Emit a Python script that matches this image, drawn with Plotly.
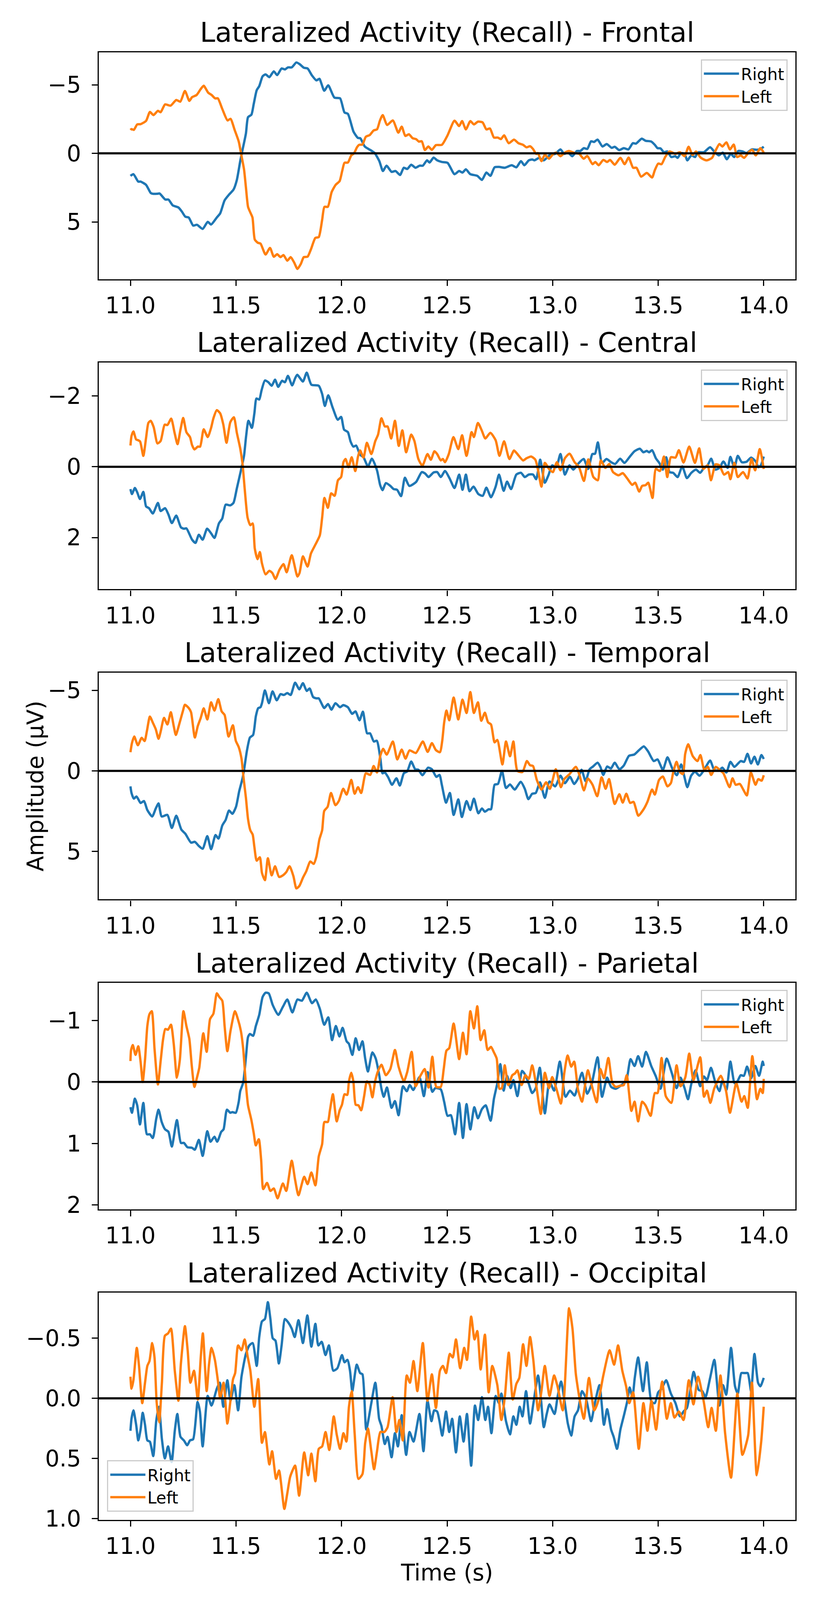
import plotly.graph_objects as go

# ---------------- data: (time in s, amplitude in µV) ----------------
frontal_right = [(11.0,1.64),(11.014,1.52),(11.037,2.06),(11.048,2.06),(11.074,2.30),(11.096,2.89),(11.106,2.95),(11.127,2.95),(11.138,2.93),(11.165,3.37),(11.18,3.37),(11.2,3.79),(11.228,3.96),(11.244,4.26),(11.26,4.62),(11.276,4.68),(11.297,5.27),(11.315,5.21),(11.342,5.51),(11.366,5.0),(11.382,5.19),(11.409,4.68),(11.425,4.38),(11.446,3.43),(11.467,3.01),(11.488,2.65),(11.504,1.94),(11.52,0.57),(11.531,-0.26),(11.547,-1.45),(11.557,-2.64),(11.573,-2.82),(11.584,-3.6),(11.598,-4.6),(11.61,-4.9),(11.626,-5.62),(11.64,-5.76),(11.658,-5.56),(11.679,-5.98),(11.695,-5.71),(11.716,-6.19),(11.732,-6.12),(11.746,-6.27),(11.764,-6.27),(11.786,-6.63),(11.801,-6.51),(11.822,-6.24),(11.839,-6.19),(11.86,-5.68),(11.881,-5.32),(11.895,-5.44),(11.918,-4.57),(11.937,-4.96),(11.966,-4.07),(11.993,-4.01),(12.014,-2.98),(12.03,-2.88),(12.057,-1.57),(12.078,-1.12),(12.089,-1.10),(12.11,-0.5),(12.141,-0.20),(12.157,-0.02),(12.179,0.57),(12.196,1.29),(12.213,0.90),(12.237,1.35),(12.256,1.29),(12.277,1.58),(12.295,1.05),(12.311,1.14),(12.33,0.83),(12.35,1.05),(12.37,0.90),(12.385,0.90),(12.405,0.51),(12.417,0.67),(12.436,0.31),(12.453,0.51),(12.475,0.63),(12.502,0.69),(12.535,1.52),(12.557,1.29),(12.573,1.40),(12.589,1.17),(12.61,1.52),(12.643,1.64),(12.665,1.94),(12.686,1.40),(12.705,1.64),(12.725,1.02),(12.746,0.99),(12.773,1.05),(12.806,0.87),(12.828,1.02),(12.85,0.57),(12.866,0.87),(12.887,0.51),(12.903,0.45),(12.914,0.51),(12.936,0.33),(12.958,0.51),(12.985,0.15),(13.012,0.04),(13.037,-0.29),(13.055,0.04),(13.072,-0.08),(13.093,0.21),(13.115,-0.17),(13.131,-0.17),(13.148,-0.38),(13.164,-0.32),(13.182,-0.88),(13.196,-0.83),(13.213,-1.0),(13.236,-0.5),(13.256,-0.68),(13.28,-0.40),(13.294,-0.48),(13.315,-0.24),(13.337,-0.38),(13.359,-0.29),(13.38,-0.74),(13.395,-0.71),(13.422,-1.07),(13.44,-0.92),(13.467,-0.86),(13.484,-0.62),(13.497,-0.38),(13.511,-0.36),(13.527,-0.08),(13.543,-0.14),(13.562,0.27),(13.581,0.21),(13.592,0.33),(13.608,-0.02),(13.625,0.04),(13.638,0.51),(13.657,0.15),(13.675,0.27),(13.688,-0.08),(13.716,-0.08),(13.746,-0.44),(13.765,-0.14),(13.787,0.15),(13.806,-0.05),(13.825,0.43),(13.844,0.04),(13.86,0.27),(13.879,-0.17),(13.9,-0.14),(13.918,-0.02),(13.944,-0.29),(13.966,-0.26),(13.982,-0.29),(14.0,-0.48)]

frontal_left = [(11.0,-1.71),(11.005,-1.77),(11.016,-1.71),(11.032,-2.11),(11.048,-2.13),(11.074,-2.37),(11.092,-3.02),(11.109,-2.79),(11.13,-3.10),(11.143,-3.0),(11.164,-3.57),(11.19,-3.48),(11.217,-3.89),(11.236,-3.77),(11.258,-4.55),(11.279,-3.83),(11.292,-4.10),(11.313,-4.25),(11.332,-4.67),(11.347,-4.93),(11.368,-4.43),(11.385,-4.25),(11.401,-4.01),(11.414,-4.01),(11.435,-3.24),(11.46,-2.40),(11.474,-2.52),(11.494,-1.69),(11.513,-0.86),(11.525,0.10),(11.538,1.17),(11.547,2.48),(11.557,3.90),(11.568,4.32),(11.578,4.68),(11.589,6.29),(11.603,6.52),(11.616,6.58),(11.64,7.38),(11.661,6.90),(11.679,7.54),(11.695,7.36),(11.711,7.57),(11.725,7.42),(11.743,7.83),(11.759,7.57),(11.775,7.95),(11.791,8.43),(11.807,8.07),(11.821,7.57),(11.839,7.54),(11.855,7.0),(11.876,6.17),(11.892,6.11),(11.908,4.86),(11.919,3.90),(11.935,3.90),(11.953,2.83),(11.972,2.30),(11.991,2.02),(12.003,1.29),(12.014,0.69),(12.03,0.67),(12.046,0.15),(12.059,0.0),(12.073,-0.44),(12.083,-0.62),(12.099,-0.64),(12.115,-1.21),(12.133,-1.33),(12.152,-1.67),(12.168,-1.75),(12.182,-2.40),(12.195,-2.79),(12.216,-2.07),(12.243,-2.40),(12.269,-1.51),(12.285,-1.95),(12.302,-1.27),(12.319,-1.39),(12.337,-1.10),(12.353,-1.04),(12.366,-0.86),(12.38,-0.88),(12.395,-0.24),(12.411,-0.50),(12.428,-0.26),(12.447,-0.60),(12.475,-0.62),(12.502,-1.31),(12.535,-2.38),(12.557,-1.99),(12.571,-2.35),(12.589,-1.75),(12.61,-2.35),(12.627,-2.11),(12.646,-2.31),(12.668,-2.26),(12.686,-1.75),(12.703,-1.81),(12.722,-1.15),(12.74,-1.15),(12.755,-1.04),(12.77,-1.31),(12.792,-0.74),(12.817,-1.0),(12.838,-0.74),(12.86,-0.62),(12.876,-0.44),(12.893,-0.52),(12.907,-0.32),(12.922,0.04),(12.93,-0.02),(12.947,0.57),(12.963,0.10),(12.983,0.39),(13.001,0.07),(13.017,-0.05),(13.037,0.21),(13.055,-0.02),(13.077,-0.17),(13.104,-0.02),(13.126,0.04),(13.147,0.39),(13.164,0.19),(13.189,0.79),(13.202,0.63),(13.218,0.87),(13.24,0.48),(13.258,0.63),(13.272,0.48),(13.294,0.83),(13.321,0.33),(13.341,0.79),(13.36,0.31),(13.381,1.05),(13.397,1.05),(13.419,1.70),(13.446,1.43),(13.471,1.76),(13.484,1.23),(13.5,0.75),(13.516,0.79),(13.533,0.27),(13.554,-0.14),(13.581,0.04),(13.603,-0.08),(13.625,0.21),(13.644,-0.48),(13.663,0.12),(13.679,-0.14),(13.701,0.31),(13.728,0.51),(13.755,0.33),(13.771,-0.17),(13.79,-0.68),(13.804,-0.50),(13.823,-0.80),(13.84,-0.29),(13.858,-0.64),(13.874,0.27),(13.891,0.15),(13.907,0.33),(13.929,-0.08),(13.945,-0.26),(13.962,0.15),(13.984,-0.38),(14.0,-0.05)]

central_right = [(11.0,0.63),(11.007,0.77),(11.021,0.60),(11.032,0.72),(11.045,0.91),(11.061,0.71),(11.074,1.12),(11.088,1.17),(11.106,1.32),(11.13,1.02),(11.143,1.25),(11.164,1.17),(11.18,1.35),(11.196,1.59),(11.217,1.38),(11.239,1.71),(11.253,1.75),(11.265,1.74),(11.292,2.06),(11.308,2.15),(11.324,1.92),(11.342,2.06),(11.363,1.75),(11.382,1.88),(11.398,2.01),(11.419,1.60),(11.435,1.46),(11.451,1.07),(11.473,1.09),(11.488,1.02),(11.504,0.61),(11.525,0.06),(11.538,-0.31),(11.548,-0.87),(11.559,-1.30),(11.575,-1.10),(11.587,-1.51),(11.597,-1.93),(11.61,-1.90),(11.621,-2.16),(11.637,-2.44),(11.653,-2.39),(11.669,-2.29),(11.685,-2.46),(11.7,-2.26),(11.718,-2.43),(11.732,-2.39),(11.746,-2.57),(11.766,-2.30),(11.78,-2.50),(11.79,-2.60),(11.817,-2.41),(11.835,-2.66),(11.857,-2.32),(11.892,-2.29),(11.908,-2.06),(11.921,-1.72),(11.937,-2.02),(11.958,-1.67),(11.982,-1.33),(11.998,-1.41),(12.012,-1.05),(12.03,-0.98),(12.043,-0.71),(12.056,-0.57),(12.069,-0.60),(12.088,-0.34),(12.104,-0.27),(12.125,-0.01),(12.144,-0.23),(12.168,0.10),(12.183,0.52),(12.194,0.66),(12.21,0.46),(12.231,0.54),(12.247,0.63),(12.263,0.65),(12.282,0.83),(12.3,0.31),(12.321,0.54),(12.353,0.43),(12.38,0.15),(12.396,0.19),(12.412,0.29),(12.436,0.16),(12.453,0.15),(12.47,0.29),(12.49,0.12),(12.512,0.33),(12.535,0.60),(12.557,0.22),(12.573,0.65),(12.589,0.22),(12.606,0.69),(12.625,0.56),(12.648,0.77),(12.669,0.82),(12.686,0.59),(12.708,0.86),(12.73,0.56),(12.746,0.22),(12.768,0.68),(12.784,0.42),(12.803,0.63),(12.828,0.22),(12.85,0.17),(12.868,0.29),(12.887,0.22),(12.907,0.22),(12.922,0.35),(12.941,-0.20),(12.963,0.45),(12.98,0.24),(12.998,-0.04),(13.017,0.01),(13.037,-0.36),(13.058,0.22),(13.08,-0.04),(13.098,0.08),(13.12,-0.08),(13.147,-0.22),(13.168,0.06),(13.188,-0.36),(13.201,-0.37),(13.214,-0.69),(13.234,-0.11),(13.255,-0.22),(13.277,-0.13),(13.296,-0.08),(13.32,-0.23),(13.34,-0.11),(13.366,-0.29),(13.388,-0.44),(13.413,-0.51),(13.43,-0.41),(13.446,-0.45),(13.457,-0.41),(13.471,-0.47),(13.489,-0.24),(13.505,-0.11),(13.522,0.08),(13.538,-0.27),(13.554,0.15),(13.571,0.17),(13.592,0.29),(13.614,-0.01),(13.636,0.32),(13.657,0.17),(13.679,0.08),(13.699,0.17),(13.717,0.03),(13.734,-0.04),(13.751,-0.23),(13.771,0.08),(13.79,0.03),(13.809,-0.15),(13.829,0.03),(13.842,-0.28),(13.861,0.03),(13.877,-0.31),(13.896,-0.13),(13.918,-0.14),(13.94,-0.26),(13.962,-0.15),(13.975,0.01),(13.986,-0.04),(14.0,-0.29)]

central_left = [(11.0,-0.60),(11.005,-0.87),(11.014,-1.00),(11.027,-0.77),(11.037,-0.75),(11.046,-0.71),(11.061,-0.31),(11.074,-0.82),(11.085,-1.24),(11.096,-1.30),(11.11,-1.12),(11.128,-0.66),(11.143,-0.73),(11.162,-1.19),(11.175,-1.18),(11.193,-1.36),(11.209,-0.96),(11.223,-0.64),(11.237,-1.05),(11.25,-1.38),(11.265,-0.98),(11.282,-0.84),(11.292,-0.61),(11.303,-0.49),(11.319,-0.57),(11.33,-0.57),(11.347,-1.06),(11.366,-0.84),(11.382,-1.10),(11.393,-1.37),(11.409,-1.60),(11.425,-1.51),(11.44,-1.19),(11.455,-0.68),(11.473,-1.26),(11.49,-1.40),(11.504,-0.96),(11.52,-0.52),(11.531,-0.08),(11.541,0.61),(11.555,1.44),(11.568,1.65),(11.579,1.60),(11.589,2.31),(11.602,2.61),(11.613,2.41),(11.623,2.73),(11.64,3.04),(11.658,2.94),(11.672,3.00),(11.687,3.17),(11.706,2.91),(11.725,2.75),(11.74,2.98),(11.764,2.50),(11.791,3.10),(11.801,3.00),(11.817,2.53),(11.839,2.82),(11.855,2.45),(11.876,2.20),(11.897,1.94),(11.908,1.44),(11.919,0.88),(11.935,1.16),(11.951,0.75),(11.967,0.82),(11.983,0.38),(11.998,0.29),(12.009,-0.13),(12.019,-0.22),(12.033,0.01),(12.048,-0.27),(12.065,0.12),(12.078,-0.29),(12.088,-0.46),(12.104,-0.26),(12.12,-0.68),(12.141,-0.36),(12.16,-0.73),(12.173,-0.91),(12.189,-1.37),(12.205,-1.14),(12.218,-1.14),(12.235,-0.80),(12.253,-1.30),(12.271,-0.59),(12.288,-1.03),(12.306,-0.41),(12.33,-0.91),(12.345,-0.73),(12.364,-0.22),(12.383,-0.03),(12.407,-0.36),(12.423,-0.20),(12.44,-0.44),(12.453,-0.36),(12.47,-0.18),(12.48,-0.22),(12.49,-0.13),(12.508,-0.36),(12.53,-0.84),(12.553,-0.50),(12.571,-0.89),(12.592,-0.31),(12.616,-0.98),(12.627,-0.84),(12.646,-1.24),(12.664,-1.03),(12.681,-0.80),(12.705,-0.96),(12.73,-0.75),(12.748,-0.31),(12.77,-0.72),(12.795,-0.22),(12.817,-0.46),(12.833,-0.36),(12.86,-0.18),(12.876,-0.24),(12.898,-0.29),(12.918,-0.20),(12.931,0.10),(12.947,0.56),(12.963,-0.11),(12.983,0.06),(13.001,0.15),(13.02,-0.13),(13.037,0.10),(13.058,-0.24),(13.08,-0.37),(13.104,-0.13),(13.125,0.01),(13.148,0.40),(13.169,-0.21),(13.193,0.29),(13.214,0.38),(13.228,-0.18),(13.25,0.03),(13.268,-0.08),(13.286,0.15),(13.312,0.24),(13.332,0.18),(13.351,0.31),(13.377,0.51),(13.391,0.45),(13.41,0.70),(13.424,0.54),(13.44,0.52),(13.453,0.45),(13.473,0.88),(13.489,0.06),(13.508,0.12),(13.527,-0.29),(13.543,0.29),(13.56,-0.27),(13.582,-0.26),(13.598,-0.47),(13.62,-0.12),(13.647,-0.57),(13.674,-0.11),(13.694,-0.52),(13.714,0.06),(13.734,-0.04),(13.75,0.38),(13.772,-0.07),(13.79,-0.04),(13.812,0.22),(13.832,0.15),(13.842,0.35),(13.861,-0.11),(13.877,0.29),(13.902,0.15),(13.923,0.33),(13.942,-0.22),(13.959,0.10),(13.981,-0.50),(14.0,0.06)]

temporal_right = [(11.0,0.96),(11.005,1.37),(11.016,1.72),(11.029,1.59),(11.048,1.99),(11.064,1.87),(11.08,2.43),(11.103,2.83),(11.12,2.33),(11.133,2.02),(11.148,2.83),(11.175,2.73),(11.196,3.54),(11.217,2.78),(11.241,3.64),(11.26,3.90),(11.287,4.45),(11.305,4.40),(11.324,4.66),(11.342,4.83),(11.364,4.05),(11.382,4.86),(11.403,3.98),(11.417,4.20),(11.435,3.39),(11.451,3.04),(11.467,2.46),(11.483,2.66),(11.5,2.23),(11.515,1.27),(11.531,0.46),(11.538,-0.05),(11.552,-1.27),(11.566,-2.07),(11.581,-2.23),(11.594,-3.39),(11.605,-3.89),(11.616,-3.95),(11.623,-4.20),(11.637,-4.99),(11.656,-4.20),(11.673,-4.93),(11.693,-4.38),(11.711,-4.76),(11.727,-4.71),(11.743,-4.83),(11.759,-4.71),(11.78,-5.47),(11.8,-5.06),(11.817,-5.44),(11.835,-4.96),(11.849,-5.11),(11.865,-4.59),(11.881,-4.50),(11.892,-4.50),(11.918,-3.90),(11.936,-4.15),(11.952,-3.80),(11.971,-4.20),(11.993,-3.95),(12.008,-4.08),(12.03,-3.95),(12.05,-3.54),(12.066,-3.69),(12.085,-3.14),(12.101,-3.67),(12.121,-2.33),(12.135,-2.33),(12.153,-1.82),(12.167,-1.87),(12.184,-0.76),(12.194,0.15),(12.205,0.10),(12.221,0.40),(12.239,0.86),(12.26,0.46),(12.276,0.91),(12.295,0.15),(12.311,0.03),(12.33,-0.58),(12.349,-0.10),(12.364,-0.07),(12.383,0.27),(12.41,-0.20),(12.428,-0.10),(12.449,0.37),(12.464,0.25),(12.475,0.86),(12.495,1.97),(12.513,1.37),(12.531,2.73),(12.553,1.77),(12.57,2.86),(12.592,1.87),(12.61,2.43),(12.627,1.72),(12.648,2.63),(12.665,2.33),(12.679,2.53),(12.697,2.38),(12.708,2.38),(12.725,0.86),(12.741,0.81),(12.76,0.0),(12.779,1.06),(12.798,0.84),(12.82,1.16),(12.849,0.68),(12.868,1.11),(12.885,1.75),(12.903,1.42),(12.92,1.37),(12.94,0.71),(12.963,1.67),(12.985,0.66),(13.012,0.96),(13.037,0.30),(13.058,0.76),(13.082,0.37),(13.102,0.81),(13.12,0.48),(13.137,-0.07),(13.156,0.64),(13.175,-0.10),(13.191,-0.27),(13.213,-0.51),(13.226,-0.25),(13.24,0.25),(13.258,-0.27),(13.276,-0.15),(13.294,-0.51),(13.316,-0.10),(13.337,-0.33),(13.362,-0.94),(13.386,-1.01),(13.408,-1.27),(13.432,-1.52),(13.452,-1.21),(13.479,-0.61),(13.497,-0.71),(13.522,-0.07),(13.544,-0.84),(13.566,-0.17),(13.588,0.27),(13.609,-0.40),(13.623,0.30),(13.638,1.01),(13.656,0.30),(13.674,0.05),(13.696,0.30),(13.717,-0.05),(13.746,-0.64),(13.766,-0.05),(13.788,-0.03),(13.804,-0.20),(13.823,0.10),(13.842,-0.56),(13.861,-0.25),(13.891,-0.61),(13.907,-0.56),(13.923,-1.06),(13.94,-0.46),(13.956,-0.88),(13.972,-0.40),(13.989,-0.98),(14.0,-0.74)]

temporal_left = [(11.0,-1.16),(11.007,-1.72),(11.018,-2.13),(11.035,-1.59),(11.053,-2.05),(11.067,-1.85),(11.078,-2.48),(11.092,-3.37),(11.106,-2.99),(11.12,-2.58),(11.133,-1.99),(11.143,-2.43),(11.159,-3.29),(11.175,-2.88),(11.191,-3.64),(11.205,-2.78),(11.215,-2.23),(11.233,-2.99),(11.248,-3.69),(11.258,-4.10),(11.276,-3.90),(11.287,-3.64),(11.305,-2.07),(11.319,-2.78),(11.333,-3.29),(11.347,-3.88),(11.364,-3.19),(11.382,-4.25),(11.398,-3.74),(11.416,-4.45),(11.432,-3.69),(11.446,-3.47),(11.465,-2.13),(11.485,-2.83),(11.499,-1.87),(11.513,-1.47),(11.526,-0.76),(11.536,0.46),(11.547,1.67),(11.557,2.99),(11.568,3.69),(11.579,3.95),(11.587,4.71),(11.598,5.57),(11.613,5.36),(11.623,6.33),(11.637,6.78),(11.651,5.42),(11.669,6.48),(11.685,5.92),(11.704,6.58),(11.722,6.48),(11.738,6.28),(11.754,5.92),(11.772,6.53),(11.786,7.29),(11.8,7.14),(11.817,6.63),(11.833,6.22),(11.852,5.62),(11.868,5.77),(11.881,5.31),(11.895,4.25),(11.908,3.69),(11.918,2.48),(11.934,2.23),(11.95,1.37),(11.971,2.13),(11.987,1.87),(12.008,1.11),(12.024,1.47),(12.046,0.56),(12.062,1.42),(12.078,1.01),(12.093,1.37),(12.115,0.15),(12.136,0.25),(12.152,-0.30),(12.168,0.10),(12.184,-0.96),(12.197,-1.37),(12.214,-1.01),(12.243,-1.82),(12.264,-0.71),(12.285,-1.32),(12.303,-0.76),(12.322,-1.27),(12.352,-1.11),(12.385,-1.82),(12.408,-1.18),(12.428,-1.72),(12.447,-1.29),(12.466,-1.16),(12.477,-1.87),(12.486,-2.99),(12.497,-3.74),(12.51,-3.14),(12.531,-4.55),(12.553,-3.19),(12.573,-4.42),(12.592,-3.59),(12.61,-4.89),(12.627,-3.59),(12.646,-4.25),(12.662,-3.11),(12.679,-3.61),(12.694,-3.01),(12.708,-2.88),(12.725,-1.77),(12.738,-1.92),(12.762,-0.40),(12.779,-1.82),(12.798,-0.91),(12.814,-1.82),(12.833,0.0),(12.857,0.07),(12.878,-0.61),(12.893,-0.35),(12.907,-0.30),(12.925,0.56),(12.947,1.16),(12.969,0.71),(12.987,1.11),(13.015,-0.10),(13.039,1.01),(13.055,0.51),(13.08,0.20),(13.11,-0.25),(13.128,0.30),(13.148,1.21),(13.167,0.48),(13.189,0.86),(13.211,1.57),(13.232,0.40),(13.251,1.11),(13.267,0.51),(13.294,2.05),(13.316,1.45),(13.332,1.97),(13.349,1.42),(13.367,1.99),(13.383,1.92),(13.406,2.78),(13.43,2.40),(13.449,1.92),(13.471,1.16),(13.484,1.47),(13.504,0.56),(13.522,0.35),(13.544,0.96),(13.56,0.76),(13.571,0.10),(13.587,-0.56),(13.602,0.05),(13.617,0.20),(13.628,-1.06),(13.642,-1.65),(13.664,-0.91),(13.686,-0.61),(13.7,-0.98),(13.719,-0.05),(13.735,-0.25),(13.751,0.25),(13.773,-0.25),(13.792,-0.05),(13.809,0.15),(13.838,1.01),(13.852,0.46),(13.867,0.86),(13.887,0.81),(13.903,1.16),(13.92,1.52),(13.939,0.10),(13.961,0.86),(13.974,0.51),(13.99,0.61),(14.0,0.27)]

parietal_right = [(11.0,0.41),(11.007,0.50),(11.021,0.27),(11.032,0.38),(11.045,0.69),(11.061,0.34),(11.078,0.85),(11.092,0.85),(11.106,0.91),(11.122,0.60),(11.133,0.45),(11.148,0.65),(11.164,0.77),(11.18,0.81),(11.196,1.05),(11.22,0.62),(11.239,0.99),(11.253,0.99),(11.27,1.06),(11.292,1.07),(11.305,1.10),(11.324,0.94),(11.342,1.20),(11.364,0.80),(11.379,0.97),(11.398,0.89),(11.411,0.97),(11.43,0.81),(11.441,0.77),(11.457,0.45),(11.473,0.50),(11.483,0.49),(11.499,0.50),(11.513,0.32),(11.52,0.15),(11.534,0.01),(11.547,-0.40),(11.557,-0.73),(11.566,-0.78),(11.581,-0.75),(11.594,-0.91),(11.61,-1.09),(11.626,-1.38),(11.64,-1.45),(11.655,-1.44),(11.674,-1.25),(11.7,-1.09),(11.722,-1.22),(11.743,-1.34),(11.767,-1.13),(11.791,-1.34),(11.812,-1.32),(11.835,-1.45),(11.86,-1.28),(11.878,-1.34),(11.897,-1.19),(11.918,-0.93),(11.937,-1.05),(11.955,-0.68),(11.973,-0.91),(11.99,-0.74),(12.005,-0.88),(12.024,-0.66),(12.035,-0.62),(12.051,-0.44),(12.067,-0.71),(12.083,-0.52),(12.099,-0.66),(12.112,-0.38),(12.125,-0.17),(12.146,-0.48),(12.162,-0.38),(12.178,-0.12),(12.189,0.11),(12.2,0.24),(12.215,0.09),(12.237,0.42),(12.253,0.31),(12.27,0.54),(12.291,0.07),(12.309,0.15),(12.323,0.05),(12.34,0.13),(12.369,-0.08),(12.39,0.23),(12.408,-0.16),(12.43,0.16),(12.444,0.10),(12.47,0.12),(12.486,0.32),(12.502,0.55),(12.518,0.54),(12.538,0.85),(12.557,0.34),(12.575,0.91),(12.592,0.36),(12.61,0.77),(12.629,0.41),(12.646,0.59),(12.665,0.44),(12.683,0.38),(12.706,0.63),(12.722,0.27),(12.738,0.02),(12.752,-0.29),(12.768,0.14),(12.784,-0.10),(12.801,0.10),(12.814,-0.03),(12.833,0.23),(12.855,-0.18),(12.871,-0.11),(12.887,0.03),(12.903,0.18),(12.92,0.10),(12.939,-0.23),(12.963,0.51),(12.985,-0.01),(13.007,0.14),(13.034,-0.33),(13.061,0.24),(13.082,0.14),(13.104,0.22),(13.12,0.05),(13.139,-0.15),(13.164,0.19),(13.185,0.03),(13.213,-0.40),(13.234,0.24),(13.258,-0.07),(13.277,0.08),(13.299,0.11),(13.326,0.05),(13.348,-0.01),(13.369,-0.37),(13.388,-0.26),(13.405,-0.42),(13.424,-0.25),(13.442,-0.49),(13.467,-0.26),(13.489,-0.09),(13.511,0.11),(13.54,-0.38),(13.565,-0.14),(13.587,0.10),(13.606,-0.07),(13.625,0.10),(13.641,0.28),(13.657,0.03),(13.677,-0.19),(13.699,0.07),(13.717,-0.09),(13.731,-0.03),(13.75,-0.23),(13.771,0.01),(13.79,0.15),(13.804,-0.02),(13.823,0.13),(13.842,-0.33),(13.862,0.02),(13.875,-0.01),(13.891,-0.11),(13.906,-0.10),(13.921,-0.25),(13.94,-0.06),(13.96,-0.26),(13.978,-0.10),(13.995,-0.33),(14.0,-0.26)]

parietal_left = [(11.0,-0.34),(11.003,-0.52),(11.011,-0.60),(11.024,-0.44),(11.037,-0.58),(11.048,-0.33),(11.058,0.0),(11.069,-0.36),(11.08,-0.91),(11.09,-1.10),(11.101,-1.15),(11.114,-0.54),(11.13,0.04),(11.143,-0.34),(11.154,-0.68),(11.165,-0.86),(11.178,-0.85),(11.192,-0.93),(11.205,-0.62),(11.22,-0.07),(11.234,-0.36),(11.251,-1.15),(11.265,-0.91),(11.279,-0.70),(11.29,-0.28),(11.303,0.08),(11.315,-0.07),(11.326,-0.23),(11.345,-0.79),(11.361,-0.49),(11.377,-1.02),(11.393,-1.11),(11.409,-1.44),(11.421,-1.38),(11.435,-1.32),(11.446,-0.91),(11.459,-0.50),(11.474,-0.83),(11.495,-1.15),(11.509,-1.02),(11.523,-0.83),(11.534,-0.54),(11.547,0.04),(11.557,0.38),(11.573,0.62),(11.584,0.83),(11.594,1.03),(11.608,0.93),(11.619,1.26),(11.629,1.74),(11.647,1.64),(11.663,1.77),(11.679,1.73),(11.697,1.89),(11.722,1.65),(11.738,1.77),(11.764,1.28),(11.78,1.59),(11.796,1.84),(11.823,1.54),(11.839,1.66),(11.857,1.47),(11.876,1.68),(11.892,1.21),(11.908,1.01),(11.919,0.65),(11.935,0.65),(11.945,0.46),(11.959,0.20),(11.977,0.64),(11.991,0.46),(12.002,0.37),(12.014,0.20),(12.027,0.21),(12.035,-0.01),(12.046,-0.15),(12.056,-0.01),(12.067,0.37),(12.08,0.38),(12.093,0.46),(12.107,0.23),(12.12,-0.01),(12.133,0.04),(12.146,0.25),(12.159,-0.01),(12.172,-0.17),(12.189,-0.28),(12.21,-0.11),(12.231,-0.21),(12.253,-0.52),(12.27,-0.25),(12.295,-0.01),(12.311,-0.16),(12.332,-0.49),(12.351,0.07),(12.372,-0.09),(12.394,-0.21),(12.412,0.09),(12.43,-0.41),(12.449,0.08),(12.47,0.08),(12.484,-0.21),(12.497,-0.51),(12.51,-0.55),(12.531,-0.95),(12.557,-0.37),(12.575,-0.80),(12.592,-0.45),(12.61,-1.15),(12.627,-0.87),(12.643,-1.23),(12.659,-0.68),(12.676,-0.84),(12.692,-0.52),(12.708,-0.57),(12.722,-0.48),(12.735,-0.38),(12.748,0.11),(12.759,0.10),(12.773,-0.27),(12.79,0.05),(12.809,-0.11),(12.822,-0.14),(12.833,-0.19),(12.853,0.05),(12.871,-0.11),(12.887,-0.05),(12.903,-0.27),(12.922,0.05),(12.944,0.52),(12.963,-0.15),(12.983,0.10),(12.998,-0.08),(13.017,0.10),(13.039,0.35),(13.055,-0.14),(13.071,-0.43),(13.088,-0.25),(13.102,-0.33),(13.12,0.12),(13.139,0.32),(13.153,0.06),(13.167,-0.19),(13.185,0.05),(13.209,0.33),(13.226,-0.21),(13.243,-0.06),(13.264,-0.39),(13.283,0.02),(13.299,0.08),(13.321,0.06),(13.337,0.05),(13.351,-0.11),(13.373,0.47),(13.388,0.32),(13.405,0.64),(13.424,0.32),(13.44,0.38),(13.464,0.55),(13.484,0.18),(13.497,0.18),(13.516,-0.39),(13.536,0.23),(13.562,0.34),(13.587,-0.27),(13.606,0.07),(13.628,-0.07),(13.647,-0.46),(13.667,-0.03),(13.699,-0.40),(13.717,0.24),(13.731,0.14),(13.747,0.34),(13.766,0.10),(13.797,-0.10),(13.821,0.14),(13.84,0.50),(13.87,0.02),(13.895,0.32),(13.908,0.23),(13.924,0.42),(13.946,-0.42),(13.968,0.28),(13.984,0.11),(13.995,0.18),(14.0,-0.05)]

occipital_right = [(11.0,0.27),(11.005,0.17),(11.014,0.10),(11.027,0.22),(11.037,0.35),(11.048,0.26),(11.058,0.12),(11.069,0.22),(11.08,0.35),(11.092,0.36),(11.108,0.48),(11.122,0.19),(11.135,0.07),(11.149,0.34),(11.163,0.50),(11.178,0.40),(11.195,0.53),(11.21,0.27),(11.222,0.13),(11.237,0.32),(11.253,0.35),(11.269,0.39),(11.282,0.35),(11.297,0.34),(11.318,0.03),(11.329,0.11),(11.342,0.40),(11.366,-0.02),(11.384,0.06),(11.409,-0.08),(11.423,-0.13),(11.44,0.07),(11.459,-0.15),(11.474,0.02),(11.492,-0.11),(11.51,0.10),(11.526,-0.18),(11.547,-0.37),(11.563,-0.44),(11.579,-0.46),(11.598,-0.27),(11.61,-0.51),(11.623,-0.64),(11.637,-0.66),(11.651,-0.80),(11.663,-0.66),(11.674,-0.50),(11.687,-0.48),(11.703,-0.29),(11.716,-0.44),(11.732,-0.66),(11.748,-0.63),(11.764,-0.58),(11.778,-0.51),(11.796,-0.65),(11.817,-0.46),(11.838,-0.69),(11.857,-0.43),(11.876,-0.62),(11.89,-0.44),(11.906,-0.47),(11.924,-0.36),(11.94,-0.44),(11.961,-0.23),(11.98,-0.25),(12.002,-0.36),(12.014,-0.30),(12.028,-0.32),(12.04,-0.23),(12.051,-0.06),(12.072,-0.28),(12.088,-0.21),(12.099,-0.20),(12.117,0.26),(12.141,0.04),(12.16,-0.13),(12.178,0.17),(12.189,0.23),(12.205,0.38),(12.218,0.32),(12.237,0.49),(12.253,0.29),(12.267,0.40),(12.285,0.14),(12.306,0.47),(12.322,0.28),(12.341,0.36),(12.369,0.13),(12.388,0.44),(12.407,0.02),(12.426,0.19),(12.439,0.10),(12.453,0.11),(12.464,0.19),(12.477,0.31),(12.495,0.11),(12.51,0.28),(12.524,0.17),(12.542,0.45),(12.56,0.15),(12.578,0.36),(12.594,0.13),(12.614,0.56),(12.632,0.06),(12.647,0.18),(12.665,-0.01),(12.681,0.18),(12.694,0.07),(12.71,0.29),(12.73,-0.02),(12.746,0.04),(12.757,-0.04),(12.779,0.19),(12.798,0.30),(12.814,0.15),(12.828,0.22),(12.844,0.07),(12.857,0.15),(12.874,-0.06),(12.893,0.21),(12.909,0.04),(12.931,-0.19),(12.944,-0.01),(12.958,0.24),(12.972,0.13),(12.985,0.05),(13.009,0.13),(13.023,-0.01),(13.04,-0.14),(13.056,0.02),(13.072,0.21),(13.088,0.31),(13.104,0.15),(13.12,0.10),(13.139,-0.06),(13.158,0.0),(13.182,0.19),(13.2,0.04),(13.222,-0.11),(13.243,0.22),(13.258,0.09),(13.277,0.26),(13.289,0.32),(13.305,0.42),(13.321,0.26),(13.338,0.14),(13.354,0.02),(13.365,-0.09),(13.378,-0.01),(13.389,-0.17),(13.405,-0.34),(13.428,-0.06),(13.446,-0.30),(13.468,0.03),(13.484,0.04),(13.5,-0.05),(13.516,-0.08),(13.538,-0.15),(13.56,-0.04),(13.582,0.04),(13.603,0.15),(13.62,0.11),(13.636,0.08),(13.655,-0.10),(13.668,-0.22),(13.692,-0.07),(13.709,-0.06),(13.724,-0.01),(13.746,-0.17),(13.766,-0.32),(13.79,0.06),(13.807,-0.11),(13.822,-0.03),(13.845,-0.42),(13.864,-0.10),(13.877,-0.04),(13.894,-0.21),(13.91,-0.21),(13.924,-0.21),(13.94,-0.06),(13.956,-0.37),(13.973,-0.13),(13.984,-0.10),(14.0,-0.17)]

occipital_left = [(11.0,-0.18),(11.005,-0.08),(11.014,-0.15),(11.03,-0.42),(11.04,-0.28),(11.056,0.04),(11.069,-0.13),(11.08,-0.27),(11.09,-0.31),(11.103,-0.46),(11.114,-0.34),(11.124,0.03),(11.136,0.20),(11.149,-0.13),(11.163,-0.52),(11.178,-0.54),(11.192,-0.58),(11.21,-0.23),(11.227,0.02),(11.239,-0.29),(11.258,-0.60),(11.271,-0.40),(11.284,-0.13),(11.301,-0.23),(11.319,0.01),(11.333,-0.34),(11.343,-0.54),(11.361,-0.06),(11.372,-0.28),(11.384,-0.42),(11.4,-0.32),(11.414,-0.15),(11.425,0.0),(11.441,-0.13),(11.459,0.21),(11.473,0.03),(11.486,-0.16),(11.496,-0.21),(11.51,-0.44),(11.526,-0.40),(11.541,-0.49),(11.555,-0.35),(11.568,-0.23),(11.587,0.07),(11.605,-0.16),(11.623,0.37),(11.637,0.28),(11.658,0.55),(11.671,0.44),(11.69,0.67),(11.704,0.60),(11.729,0.92),(11.743,0.79),(11.757,0.65),(11.78,0.56),(11.799,0.81),(11.823,0.45),(11.842,0.64),(11.857,0.46),(11.876,0.69),(11.892,0.42),(11.908,0.40),(11.924,0.28),(11.942,0.43),(11.963,0.15),(11.977,0.30),(11.993,0.42),(12.009,0.29),(12.023,0.36),(12.035,0.07),(12.048,-0.06),(12.062,0.29),(12.08,0.67),(12.099,0.63),(12.112,0.37),(12.125,0.25),(12.141,0.44),(12.154,0.59),(12.168,0.44),(12.184,0.28),(12.203,0.28),(12.218,0.24),(12.242,-0.01),(12.26,0.28),(12.274,0.18),(12.29,0.35),(12.309,-0.19),(12.324,-0.13),(12.341,-0.31),(12.359,-0.06),(12.385,-0.46),(12.407,0.02),(12.428,-0.20),(12.447,0.08),(12.466,-0.23),(12.48,-0.27),(12.495,-0.21),(12.513,-0.37),(12.527,-0.34),(12.542,-0.49),(12.562,-0.25),(12.581,-0.42),(12.594,-0.32),(12.614,-0.68),(12.63,-0.49),(12.643,-0.56),(12.659,-0.24),(12.679,-0.53),(12.697,-0.05),(12.714,-0.27),(12.738,-0.11),(12.757,0.18),(12.774,-0.02),(12.792,-0.38),(12.811,0.01),(12.828,-0.12),(12.842,-0.17),(12.86,-0.45),(12.876,-0.27),(12.893,-0.51),(12.909,-0.31),(12.931,0.10),(12.947,-0.06),(12.963,-0.27),(12.985,-0.02),(13.007,-0.19),(13.023,-0.10),(13.048,0.10),(13.078,-0.75),(13.094,-0.58),(13.11,-0.20),(13.131,0.04),(13.148,0.17),(13.172,-0.17),(13.197,0.10),(13.218,0.01),(13.24,-0.19),(13.27,-0.40),(13.291,-0.28),(13.31,-0.44),(13.33,-0.23),(13.348,-0.10),(13.363,0.04),(13.381,-0.05),(13.408,0.42),(13.43,0.04),(13.449,0.27),(13.468,0.02),(13.49,0.26),(13.504,0.04),(13.519,-0.14),(13.541,0.17),(13.56,0.04),(13.577,0.16),(13.598,0.11),(13.62,0.18),(13.645,-0.15),(13.667,0.05),(13.689,-0.18),(13.715,0.02),(13.737,0.24),(13.753,0.08),(13.773,0.27),(13.795,-0.19),(13.817,0.29),(13.845,0.66),(13.875,-0.04),(13.899,0.47),(13.926,0.31),(13.944,-0.13),(13.967,0.64),(13.988,0.36),(14.0,0.07)]

regions = ["Frontal", "Central", "Temporal", "Parietal", "Occipital"]
series_right = [frontal_right, central_right, temporal_right, parietal_right, occipital_right]
series_left = [frontal_left, central_left, temporal_left, parietal_left, occipital_left]
x_ticks = [11.0, 11.5, 12.0, 12.5, 13.0, 13.5, 14.0]

# ---------------- styling / layout ----------------
BLUE = "#1f77b4"
ORANGE = "#ff7f0e"
FONT = "DejaVu Sans"

# The figure fills the browser viewport (minus the 8px body margin), so that
# all of it is always visible; positions are fractions of the reference frame.
FW, FH, OFF = 2084.0, 4484.0, 8.0


def fx(px):
    return (px - OFF) / FW


def fy(py):
    return 1 - (py - OFF) / FH


X_LEFT, X_RIGHT = 253, 2037
panel_tops = [146, 1018.8, 1891.4, 2764.5, 3635.8]
panel_bottoms = [784.7, 1657, 2529.6, 3401.8, 4275]
y_ranges = [[9.18, -7.38], [3.46, -2.95], [7.97, -6.10], [2.07, -1.61], [1.01, -0.88]]
y_dticks = [5, 2, 5, 1, 0.5]
y_formats = ["", "", "", "", ".1f"]


def unzip(pairs):
    return [p[0] for p in pairs], [p[1] for p in pairs]


fig = go.Figure()
layout = dict(
    template="none",
    autosize=True,
    margin=dict(l=0, r=0, t=0, b=0, pad=0),
    paper_bgcolor="white", plot_bgcolor="white",
    font=dict(family=FONT, color="black", size=58),
    showlegend=True,
    annotations=[], shapes=[],
)

for i, region in enumerate(regions):
    k = "" if i == 0 else str(i + 1)
    leg = "legend" if i == 0 else f"legend{i + 1}"
    top, bot = panel_tops[i], panel_bottoms[i]
    for name, data, color in (("Right", series_right[i], BLUE), ("Left", series_left[i], ORANGE)):
        tx, vy = unzip(data)
        fig.add_trace(go.Scatter(
            x=tx, y=vy, mode="lines", name=name,
            line=dict(color=color, width=6, shape="spline", smoothing=0.6),
            xaxis="x" + k, yaxis="y" + k, legend=leg, showlegend=True,
            hoverinfo="skip",
        ))
    xa = dict(
        domain=[fx(X_LEFT), fx(X_RIGHT)], anchor="y" + k, range=[10.85, 14.15],
        tickmode="array", tickvals=x_ticks, ticktext=[f"{v:.1f}" for v in x_ticks],
        showgrid=False, zeroline=False, showline=True, mirror=True, automargin=False,
        linecolor="black", linewidth=3.3, ticks="outside", ticklen=14.6,
        tickwidth=3.3, tickcolor="black", tickfont=dict(size=58, family=FONT, color="black"),
        ticklabelstandoff=0,
    )
    if i == 4:
        xa["title"] = dict(text="Time (s)", font=dict(size=58, family=FONT, color="black"), standoff=8)
    layout["xaxis" + k] = xa
    layout["yaxis" + k] = dict(
        domain=[fy(bot), fy(top)], anchor="x" + k, range=y_ranges[i],
        dtick=y_dticks[i], tick0=0, tickformat=y_formats[i],
        showgrid=False, zeroline=False, showline=True, mirror=True, automargin=False,
        linecolor="black", linewidth=3.3, ticks="outside", ticklen=14.6,
        tickwidth=3.3, tickcolor="black", tickfont=dict(size=58, family=FONT, color="black"),
        ticklabelstandoff=16,
    )

    # panel title
    layout["annotations"].append(dict(
        text=f"Lateralized Activity (Recall) - {region}",
        xref="paper", yref="paper", x=fx((X_LEFT + X_RIGHT) / 2), y=fy(top - 8),
        xanchor="center", yanchor="bottom", showarrow=False,
        font=dict(size=70, family=FONT, color="black"),
    ))
    # horizontal zero line across the axes
    layout["shapes"].append(dict(
        type="line", xref=f"x{k} domain", yref="y" + k, x0=0, x1=1, y0=0, y1=0,
        line=dict(color="black", width=5.5), layer="above",
    ))
    legend_cfg = dict(
        bgcolor="rgba(255,255,255,0.8)", bordercolor="#cccccc", borderwidth=3,
        font=dict(size=42, family=FONT, color="black"), itemwidth=90,
        tracegroupgap=0, orientation="v",
    )
    if i < 4:
        legend_cfg.update(x=fx(2016.6), y=fy(top + 20), xanchor="right", yanchor="top")
    else:
        legend_cfg.update(x=fx(274.4), y=fy(4252.9), xanchor="left", yanchor="bottom")
    layout[leg] = legend_cfg

# y-axis label (centred on the middle panel)
layout["annotations"].append(dict(
    text="Amplitude (µV)", xref="paper", yref="paper",
    x=fx(91), y=fy((panel_tops[2] + panel_bottoms[2]) / 2),
    xanchor="center", yanchor="middle", textangle=-90, showarrow=False,
    font=dict(size=58, family=FONT, color="black"),
))

fig.update_layout(**layout)
fig.write_html("out.html", default_width="calc(100vw - 16px)", default_height="calc(100vh - 16px)")
